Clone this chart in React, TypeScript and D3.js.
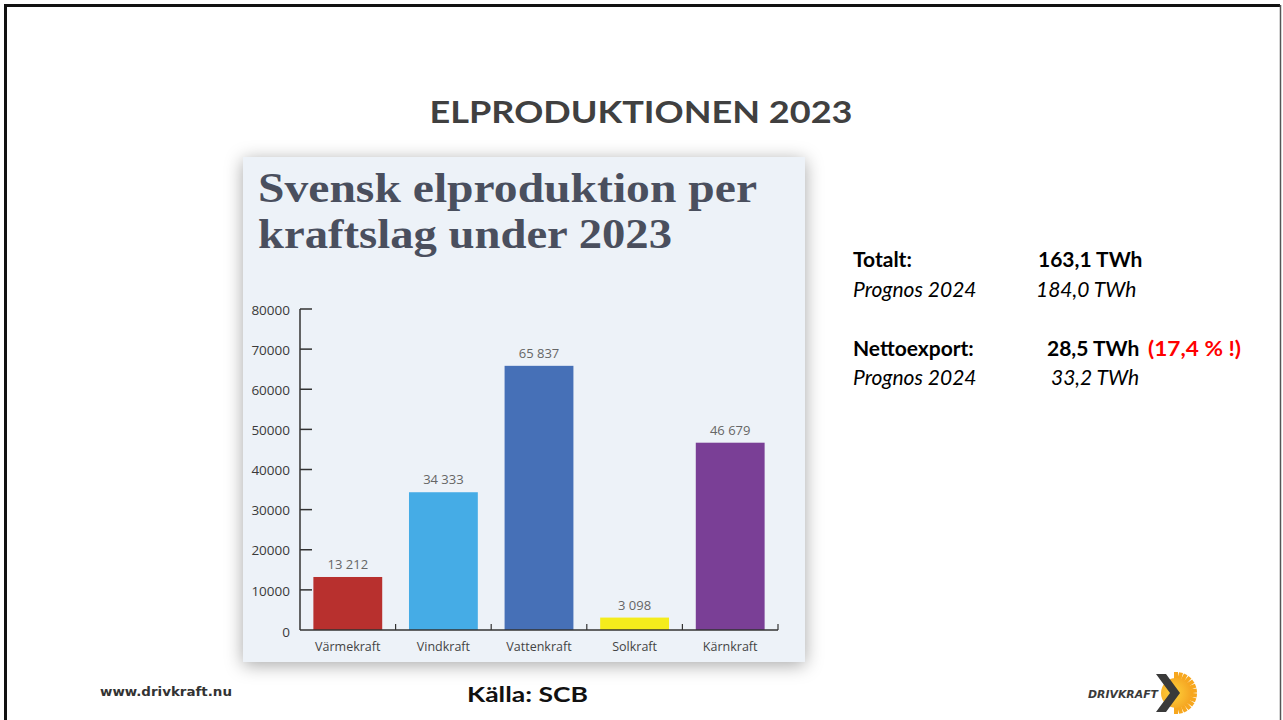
import React from "react";
import * as d3 from "d3";

const categories = ["Värmekraft", "Vindkraft", "Vattenkraft", "Solkraft", "Kärnkraft"];
const values = [13212, 34333, 65837, 3098, 46679];
const valueLabels = ["13 212", "34 333", "65 837", "3 098", "46 679"];
const barColors = ["#b8302e", "#45ace6", "#4670b7", "#f4ec1c", "#7a3f96"];
const yTicks = [0, 10000, 20000, 30000, 40000, 50000, 60000, 70000, 80000];

const infoRows = [
  { label: "Totalt:", value: "163,1 TWh", extra: "", bold: true, vx: 1038, y: 267 },
  { label: "Prognos 2024", value: "184,0 TWh", extra: "", bold: false, vx: 1036, y: 297 },
  { label: "Nettoexport:", value: "28,5 TWh", extra: "(17,4 % !)", bold: true, vx: 1047, y: 356 },
  { label: "Prognos 2024", value: "33,2 TWh", extra: "", bold: false, vx: 1051, y: 385 },
];

export default function App() {
  const W = 1283, H = 720;
  const x = d3.scaleBand<string>().domain(categories).range([300, 778]).paddingInner(0.28).paddingOuter(0.14);
  const y = d3.scaleLinear().domain([0, 80000]).range([630, 309]);
  const font = "'Open Sans', 'DejaVu Sans', sans-serif";
  const bounds = x.domain().map((c) => (x(c) as number) + x.bandwidth() + (x.step() - x.bandwidth()) / 2);

  const rays = d3.range(14).map((i) => -Math.PI / 2 + (i * Math.PI) / 13);

  return (
    <div style={{ position: "absolute", left: 0, top: 0 }}>
      <svg width={W} height={H} style={{ display: "block" }}>
        <defs>
          <filter id="shadow" x="-10%" y="-10%" width="120%" height="120%">
            <feDropShadow dx="0" dy="3" stdDeviation="9" floodColor="#000" floodOpacity="0.35" />
          </filter>
          <radialGradient id="sun" cx="40%" cy="50%" r="60%">
            <stop offset="0%" stopColor="#ffd23a" />
            <stop offset="100%" stopColor="#f5a623" />
          </radialGradient>
        </defs>
        <rect x={0} y={0} width={W} height={H} fill="#ffffff" />
        <path d={`M5.5,${H} V5.5 H1280`} fill="none" stroke="#111" strokeWidth={3} />
        <line x1={1280.5} y1={5} x2={1280.5} y2={H} stroke="#555" strokeWidth={1.5} />

        <text x={641} y={123} textAnchor="middle" fontFamily="Lato, 'Open Sans', sans-serif" fontWeight={700}
          fontSize={30} fill="#404040" textLength={423} lengthAdjust="spacingAndGlyphs">ELPRODUKTIONEN 2023</text>

        <rect x={243} y={157} width={562} height={505} fill="#edf2f8" filter="url(#shadow)" />
        <text x={258} y={202} fontFamily="'Liberation Serif', serif" fontWeight={700} fontSize={43} fill="#4a4f5e"
          textLength={499} lengthAdjust="spacingAndGlyphs">Svensk elproduktion per</text>
        <text x={258} y={248} fontFamily="'Liberation Serif', serif" fontWeight={700} fontSize={43} fill="#4a4f5e"
          textLength={414} lengthAdjust="spacingAndGlyphs">kraftslag under 2023</text>

        <line x1={300} y1={y(80000)} x2={300} y2={y(0)} stroke="#333" strokeWidth={1.5} />
        {yTicks.map((t) => (
          <g key={t}>
            {t > 0 && <line x1={300} x2={312} y1={y(t)} y2={y(t)} stroke="#333" strokeWidth={1.5} />}
            <text x={290} y={y(t) + (t === 0 ? 2 : 1)} dy="0.35em" textAnchor="end" fontFamily={font}
              fontSize={13.5} fill="#3a3a3a">{t}</text>
          </g>
        ))}

        {categories.map((c, i) => (
          <g key={c}>
            <rect x={x(c)} y={y(values[i])} width={x.bandwidth()} height={y(0) - y(values[i])} fill={barColors[i]} />
            <text x={(x(c) as number) + x.bandwidth() / 2} y={y(values[i]) - 8} textAnchor="middle"
              fontFamily={font} fontSize={13} fill="#666">{valueLabels[i]}</text>
            <text x={(x(c) as number) + x.bandwidth() / 2} y={651} textAnchor="middle"
              fontFamily={font} fontSize={12.5} fill="#444">{c}</text>
          </g>
        ))}

        <line x1={300} x2={778} y1={y(0)} y2={y(0)} stroke="#333" strokeWidth={1.5} />
        {bounds.map((b, i) => (
          <line key={i} x1={b} x2={b} y1={y(0)} y2={y(0) - 6} stroke="#333" strokeWidth={1.2} />
        ))}

        {infoRows.map((r, i) => (
          <g key={i} fontFamily="Lato, 'Open Sans', sans-serif" fontSize={21} fill="#000"
            fontWeight={r.bold ? 700 : 400} fontStyle={r.bold ? "normal" : "italic"}>
            <text x={853} y={r.y}>{r.label}</text>
            <text x={r.vx} y={r.y}>{r.value}</text>
            {r.extra && <text x={1148} y={r.y} fill="#ff0000" textLength={93} lengthAdjust="spacingAndGlyphs">{r.extra}</text>}
          </g>
        ))}

        <text x={100} y={696} fontFamily="'Liberation Sans Narrow', 'DejaVu Sans Condensed', sans-serif" fontWeight={700}
          fontSize={13} fill="#333" textLength={132} lengthAdjust="spacingAndGlyphs">www.drivkraft.nu</text>
        <text x={467} y={702} fontFamily="Lato, 'Open Sans', sans-serif" fontWeight={700} fontSize={21} fill="#111"
          textLength={121} lengthAdjust="spacingAndGlyphs">Källa: SCB</text>

        <g>
          {rays.map((a, i) => (
            <line key={i} x1={1176 + Math.cos(a) * 10} y1={693 + Math.sin(a) * 10}
              x2={1176 + Math.cos(a) * 21} y2={693 + Math.sin(a) * 21} stroke="#f7a71e" strokeWidth={4} />
          ))}
          <circle cx={1176} cy={693} r={15} fill="url(#sun)" />
          <path d="M1156,674 L1166,674 L1180,693 L1166,712 L1156,712 L1170,693 Z" fill="#3a3a3a" />
          <text x={1088} y={698} fontFamily="'DejaVu Sans', sans-serif" fontWeight={700} fontStyle="italic"
            fontSize={11} fill="#3a3a3a" textLength={70} lengthAdjust="spacingAndGlyphs">DRIVKRAFT</text>
        </g>
      </svg>
    </div>
  );
}
